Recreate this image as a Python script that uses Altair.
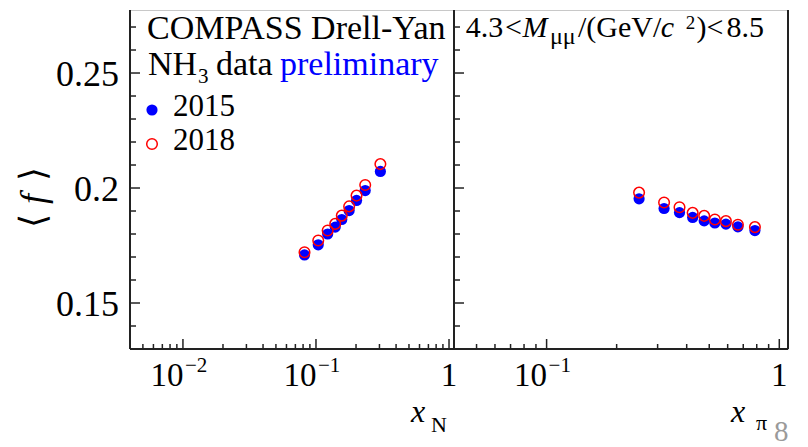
import altair as alt
import pandas as pd

FONT = "Liberation Serif"

# ---- data ----
xN = [0.0820, 0.104, 0.1224, 0.1395, 0.1563, 0.1775, 0.2018, 0.2344, 0.3048]
fN_2015 = [0.1709, 0.1753, 0.1800, 0.1830, 0.1863, 0.1902, 0.1946, 0.1989, 0.2072]
fN_2018 = [0.1721, 0.1772, 0.1815, 0.1844, 0.1880, 0.1920, 0.1967, 0.2013, 0.2104]

xpi = [0.2497, 0.3198, 0.3726, 0.4243, 0.4756, 0.5286, 0.5898, 0.6640, 0.7857]
fpi_2015 = [0.1953, 0.1911, 0.1893, 0.1872, 0.1857, 0.1848, 0.1843, 0.1831, 0.1815]
fpi_2018 = [0.1980, 0.1937, 0.1916, 0.1892, 0.1879, 0.1863, 0.1856, 0.1840, 0.1830]

# ---- axes / ticks ----
y_domain = [0.13, 0.2774]
y_major = [0.15, 0.2, 0.25]
y_labels = ["0.15", "0.2", "0.25"]
y_minor = [0.14, 0.16, 0.17, 0.18, 0.19, 0.21, 0.22, 0.23, 0.24, 0.26, 0.27]

xN_domain = [0.004, 1.09]
xN_major = [0.01, 0.1, 1.0]
xN_minor = [0.005, 0.006, 0.007, 0.008, 0.009,
            0.02, 0.03, 0.04, 0.05, 0.06, 0.07, 0.08, 0.09,
            0.2, 0.3, 0.4, 0.5, 0.6, 0.7, 0.8, 0.9]
xN_pow = [0.01, 0.1]
xN_sup = ["\u22122", "\u22121"]

xpi_domain = [0.04, 1.09]
xpi_major = [0.1, 1.0]
xpi_minor = [0.05, 0.06, 0.07, 0.08, 0.09,
             0.2, 0.3, 0.4, 0.5, 0.6, 0.7, 0.8, 0.9]
xpi_pow = [0.1]
xpi_sup = ["\u22121"]

H = 339
W_LEFT = 324
W_RIGHT = 334
SIZE_FILLED = 125
SIZE_OPEN = 112

one = pd.DataFrame({"a": [0]})
yscale = alt.Scale(domain=y_domain, nice=False, zero=False)


def txt(s, x, y, size, color="black", style="normal", align="left"):
    return alt.Chart(one).mark_text(
        text=s, align=align, baseline="alphabetic", font=FONT,
        fontSize=size, color=color, fontStyle=style
    ).encode(x=alt.value(x), y=alt.value(y))


def vrule(x, y1, y2, color="#222222", width=2, opacity=1):
    return alt.Chart(one).mark_rule(color=color, strokeWidth=width, opacity=opacity).encode(
        x=alt.value(x), y=alt.value(y1), y2=alt.value(y2))


def hrule(x1, x2, y, color="#222222", width=2):
    return alt.Chart(one).mark_rule(color=color, strokeWidth=width).encode(
        x=alt.value(x1), x2=alt.value(x2), y=alt.value(y))


def panel(xs, f15, f18, xdom, W, xmaj, xmin, xpow, xsup, right_border):
    xscale = alt.Scale(type="log", domain=xdom, nice=False)
    X = lambda f: alt.X(f, scale=xscale, axis=None)
    Y = lambda f: alt.Y(f, scale=yscale, axis=None)

    layers = []
    # y ticks (inward)
    layers.append(alt.Chart(pd.DataFrame({"v": y_minor})).mark_rule(color="#222222", strokeWidth=1.5)
                  .encode(y=Y("v:Q"), x=alt.value(0), x2=alt.value(6)))
    layers.append(alt.Chart(pd.DataFrame({"v": y_major})).mark_rule(color="#222222", strokeWidth=1.5)
                  .encode(y=Y("v:Q"), x=alt.value(0), x2=alt.value(10)))
    # x ticks (inward)
    layers.append(alt.Chart(pd.DataFrame({"v": xmin})).mark_rule(color="#222222", strokeWidth=1.5)
                  .encode(x=X("v:Q"), y=alt.value(H), y2=alt.value(H - 5)))
    layers.append(alt.Chart(pd.DataFrame({"v": xmaj})).mark_rule(color="#222222", strokeWidth=1.5)
                  .encode(x=X("v:Q"), y=alt.value(H), y2=alt.value(H - 10)))
    # borders
    layers.append(vrule(0, 0, H))
    layers.append(hrule(0, W, H))
    if right_border:
        layers.append(vrule(W, 0, H))
    # x tick labels
    layers.append(alt.Chart(pd.DataFrame({"v": xpow})).mark_text(
        text="10", align="right", baseline="alphabetic", font=FONT, fontSize=33, dx=0.5)
        .encode(x=X("v:Q"), y=alt.value(H + 37)))
    layers.append(alt.Chart(pd.DataFrame({"v": xpow, "s": xsup})).mark_text(
        align="left", baseline="alphabetic", font=FONT, fontSize=21, dx=2)
        .encode(x=X("v:Q"), y=alt.value(H + 23), text="s:N"))
    layers.append(alt.Chart(pd.DataFrame({"v": [1.0]})).mark_text(
        text="1", align="center", baseline="alphabetic", font=FONT, fontSize=33)
        .encode(x=X("v:Q"), y=alt.value(H + 37)))
    # data
    d15 = pd.DataFrame({"x": xs, "f": f15})
    d18 = pd.DataFrame({"x": xs, "f": f18})
    layers.append(alt.Chart(d15).mark_point(filled=True, color="#0000ff", size=SIZE_FILLED, opacity=1)
                  .encode(x=X("x:Q"), y=Y("f:Q")))
    layers.append(alt.Chart(d18).mark_point(filled=False, color="#ff0000", size=SIZE_OPEN,
                                            strokeWidth=1.5, opacity=1)
                  .encode(x=X("x:Q"), y=Y("f:Q")))
    return layers


# ---- left panel ----
L = panel(xN, fN_2015, fN_2018, xN_domain, W_LEFT, xN_major, xN_minor, xN_pow, xN_sup, False)
L.append(alt.Chart(pd.DataFrame({"v": y_major, "lab": y_labels})).mark_text(
    align="right", baseline="alphabetic", font=FONT, fontSize=36, dy=13)
    .encode(y=alt.Y("v:Q", scale=yscale, axis=None), x=alt.value(-11), text="lab:N"))
# left-bound anchor (invisible)
L.append(vrule(-121, 0, 1, opacity=0, width=1))
# y title  < f >
L.append(alt.Chart(one).mark_text(text="\u27e8", angle=270, align="center", baseline="middle",
                                  font=FONT, fontSize=36).encode(x=alt.value(-96), y=alt.value(211)))
L.append(alt.Chart(one).mark_text(text="f", angle=270, align="center", baseline="middle",
                                  font=FONT, fontSize=36, fontStyle="italic")
         .encode(x=alt.value(-96), y=alt.value(189)))
L.append(alt.Chart(one).mark_text(text="\u27e9", angle=270, align="center", baseline="middle",
                                  font=FONT, fontSize=36).encode(x=alt.value(-96), y=alt.value(164)))
# annotations
L += [
    txt("COMPASS Drell-Yan", 17, 29, 34),
    txt("NH", 18, 65, 34),
    txt("3", 68, 73, 21),
    txt("data", 86, 65, 34),
    txt("preliminary", 150, 65, 34, color="#0000ff"),
    txt("2015", 43, 106, 31),
    txt("2018", 43, 140, 31),
    txt("x", 281, 412, 32, style="italic"),
    txt("N", 301, 422, 22),
]
L.append(alt.Chart(one).mark_point(filled=True, color="#0000ff", size=SIZE_FILLED, opacity=1)
         .encode(x=alt.value(22), y=alt.value(100)))
L.append(alt.Chart(one).mark_point(filled=False, color="#ff0000", size=SIZE_OPEN, strokeWidth=1.5, opacity=1)
         .encode(x=alt.value(22), y=alt.value(134)))

# ---- right panel ----
R = panel(xpi, fpi_2015, fpi_2018, xpi_domain, W_RIGHT, xpi_major, xpi_minor, xpi_pow, xpi_sup, True)
R += [
    txt("4.3", 11.7, 27, 30),
    txt("<", 51, 27, 30),
    txt("M", 68.4, 27, 30, style="italic"),
    txt("\u03bc\u03bc", 96, 34, 24),
    txt("/(GeV/", 124, 27, 30),
    txt("c", 206.7, 27, 30, style="italic"),
    txt("2", 231.7, 19, 19),
    txt(")<", 242.5, 27, 30),
    txt("8.5", 272.5, 27, 30),
    txt("x", 277, 412, 32, style="italic"),
    txt("\u03c0", 302, 420, 22),
    txt("8", 320, 431, 29, color="#9a9a9a"),
]

left = alt.layer(*L).properties(width=W_LEFT, height=H)
right = alt.layer(*R).properties(width=W_RIGHT, height=H)

chart = alt.hconcat(left, right, spacing=0, bounds="flush").properties(
    padding={"left": 0, "top": 0, "right": 0, "bottom": 0}
).configure_view(stroke="#c8c8c8", strokeWidth=1)

chart.save("out.html", embed_options={"renderer": "svg", "actions": False})
